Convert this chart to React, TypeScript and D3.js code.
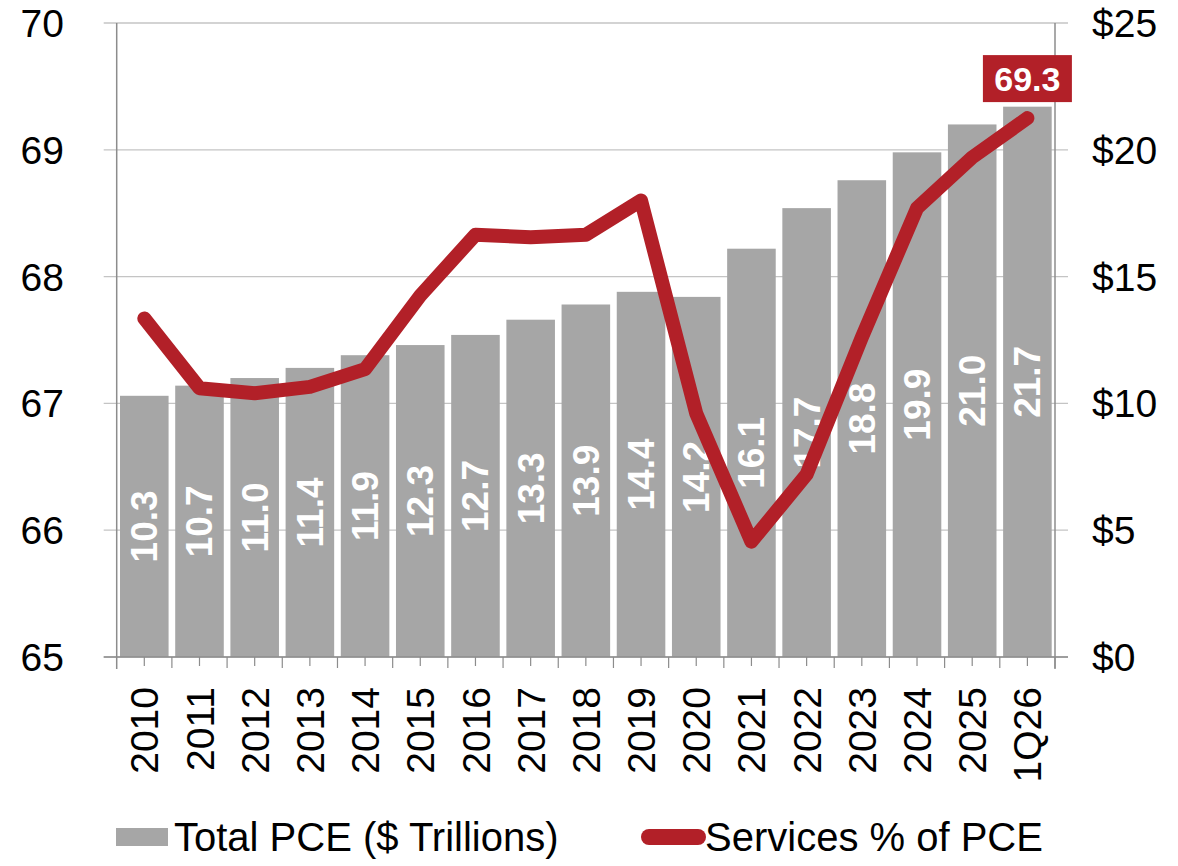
import * as d3 from "d3";

const years = ["2010", "2011", "2012", "2013", "2014", "2015", "2016", "2017", "2018", "2019", "2020", "2021", "2022", "2023", "2024", "2025", "1Q26"];
const totalPce = [10.3, 10.7, 11.0, 11.4, 11.9, 12.3, 12.7, 13.3, 13.9, 14.4, 14.2, 16.1, 17.7, 18.8, 19.9, 21.0, 21.7];
const servicesPct = [67.67, 67.12, 67.08, 67.13, 67.27, 67.85, 68.33, 68.31, 68.33, 68.6, 66.92, 65.91, 66.44, 67.52, 68.54, 68.94, 69.25];
const leftTicks = [65, 66, 67, 68, 69, 70];
const rightTicks = [0, 5, 10, 15, 20, 25];
const lastLabel = "69.3";

const W = 1178;
const H = 866;
const left = 116.7;
const right = 1055;
const top = 23;
const bottom = 657;

const barColor = "#a6a6a6";
const lineColor = "#b22028";
const font = "Arial, 'Liberation Sans', sans-serif";

export default function App() {
  const x = d3.scaleBand().domain(years).range([left, right]).paddingInner(0.12).paddingOuter(0.06);
  const yLeft = d3.scaleLinear().domain([65, 70]).range([bottom, top]);
  const yRight = d3.scaleLinear().domain([0, 25]).range([bottom, top]);
  const step = x.step();
  const cx = (d: string) => (x(d) as number) + x.bandwidth() / 2;

  const line = d3
    .line<number>()
    .x((_, i) => cx(years[i]))
    .y((d) => yLeft(d));

  const lastX = cx(years[years.length - 1]);
  const lastY = yLeft(servicesPct[servicesPct.length - 1]);

  return (
    <svg width={W} height={H} style={{ position: "absolute", left: 0, top: 0, background: "#fff" }} fontFamily={font}>
      {/* gridlines */}
      {leftTicks.map((t) => (
        <line key={"g" + t} x1={left - 13} x2={right + 13} y1={yLeft(t)} y2={yLeft(t)} stroke="#c4c4c4" strokeWidth={1.3} />
      ))}
      {/* bars */}
      {totalPce.map((v, i) => (
        <rect key={"b" + i} x={x(years[i])} y={yRight(v)} width={x.bandwidth()} height={bottom - yRight(v)} fill={barColor} />
      ))}
      {/* axes */}
      <line x1={left} x2={left} y1={top} y2={bottom + 12} stroke="#8c8c8c" strokeWidth={1.5} />
      <line x1={right} x2={right} y1={top} y2={bottom + 12} stroke="#8c8c8c" strokeWidth={1.5} />
      <line x1={left - 13} x2={right + 13} y1={bottom} y2={bottom} stroke="#8c8c8c" strokeWidth={1.5} />
      {years.map((d, i) => (
        <g key={"t" + d}>
          <line x1={left + step * (i + 1)} x2={left + step * (i + 1)} y1={bottom} y2={bottom + 11} stroke="#8c8c8c" strokeWidth={1.2} />
          <line x1={cx(d)} x2={cx(d)} y1={bottom} y2={bottom + 9} stroke="#8c8c8c" strokeWidth={1.2} />
        </g>
      ))}
      {/* bar labels */}
      {totalPce.map((v, i) => {
        const mx = cx(years[i]);
        const my = (yRight(v) + bottom) / 2;
        return (
          <text key={"bl" + i} transform={`translate(${mx},${my}) rotate(-90)`} textAnchor="middle" dy="0.35em" fill="#fff" fontWeight="bold" fontSize={37}>
            {v.toFixed(1)}
          </text>
        );
      })}
      {/* line */}
      <path d={line(servicesPct) ?? ""} fill="none" stroke={lineColor} strokeWidth={14} strokeLinecap="round" strokeLinejoin="round" />
      {/* last value label */}
      <rect x={lastX - 44.5} y={lastY - 63} width={89} height={47} fill={lineColor} />
      <text x={lastX} y={lastY - 39.5} dy="0.36em" textAnchor="middle" fill="#fff" fontWeight="bold" fontSize={34}>
        {lastLabel}
      </text>
      {/* left ticks */}
      {leftTicks.map((t) => (
        <text key={"l" + t} x={64} y={yLeft(t)} dy="0.36em" textAnchor="end" fontSize={39} fill="#000">
          {t}
        </text>
      ))}
      {/* right ticks */}
      {rightTicks.map((t) => (
        <text key={"r" + t} x={1092} y={yRight(t)} dy="0.36em" textAnchor="start" fontSize={39} fill="#000">
          {"$" + t}
        </text>
      ))}
      {/* x labels */}
      {years.map((d) => (
        <text key={"x" + d} transform={`translate(${cx(d)},${687}) rotate(-90)`} textAnchor="end" dy="0.36em" fontSize={39} fill="#000">
          {d}
        </text>
      ))}
      {/* legend */}
      <rect x={116} y={828} width={52} height={18} fill={barColor} />
      <text x={174} y={837} dy="0.36em" fontSize={40} fill="#000">Total PCE ($ Trillions)</text>
      <line x1={649} x2={698} y1={837} y2={837} stroke={lineColor} strokeWidth={16} strokeLinecap="round" />
      <text x={705} y={837} dy="0.36em" fontSize={40} fill="#000">Services % of PCE</text>
    </svg>
  );
}
